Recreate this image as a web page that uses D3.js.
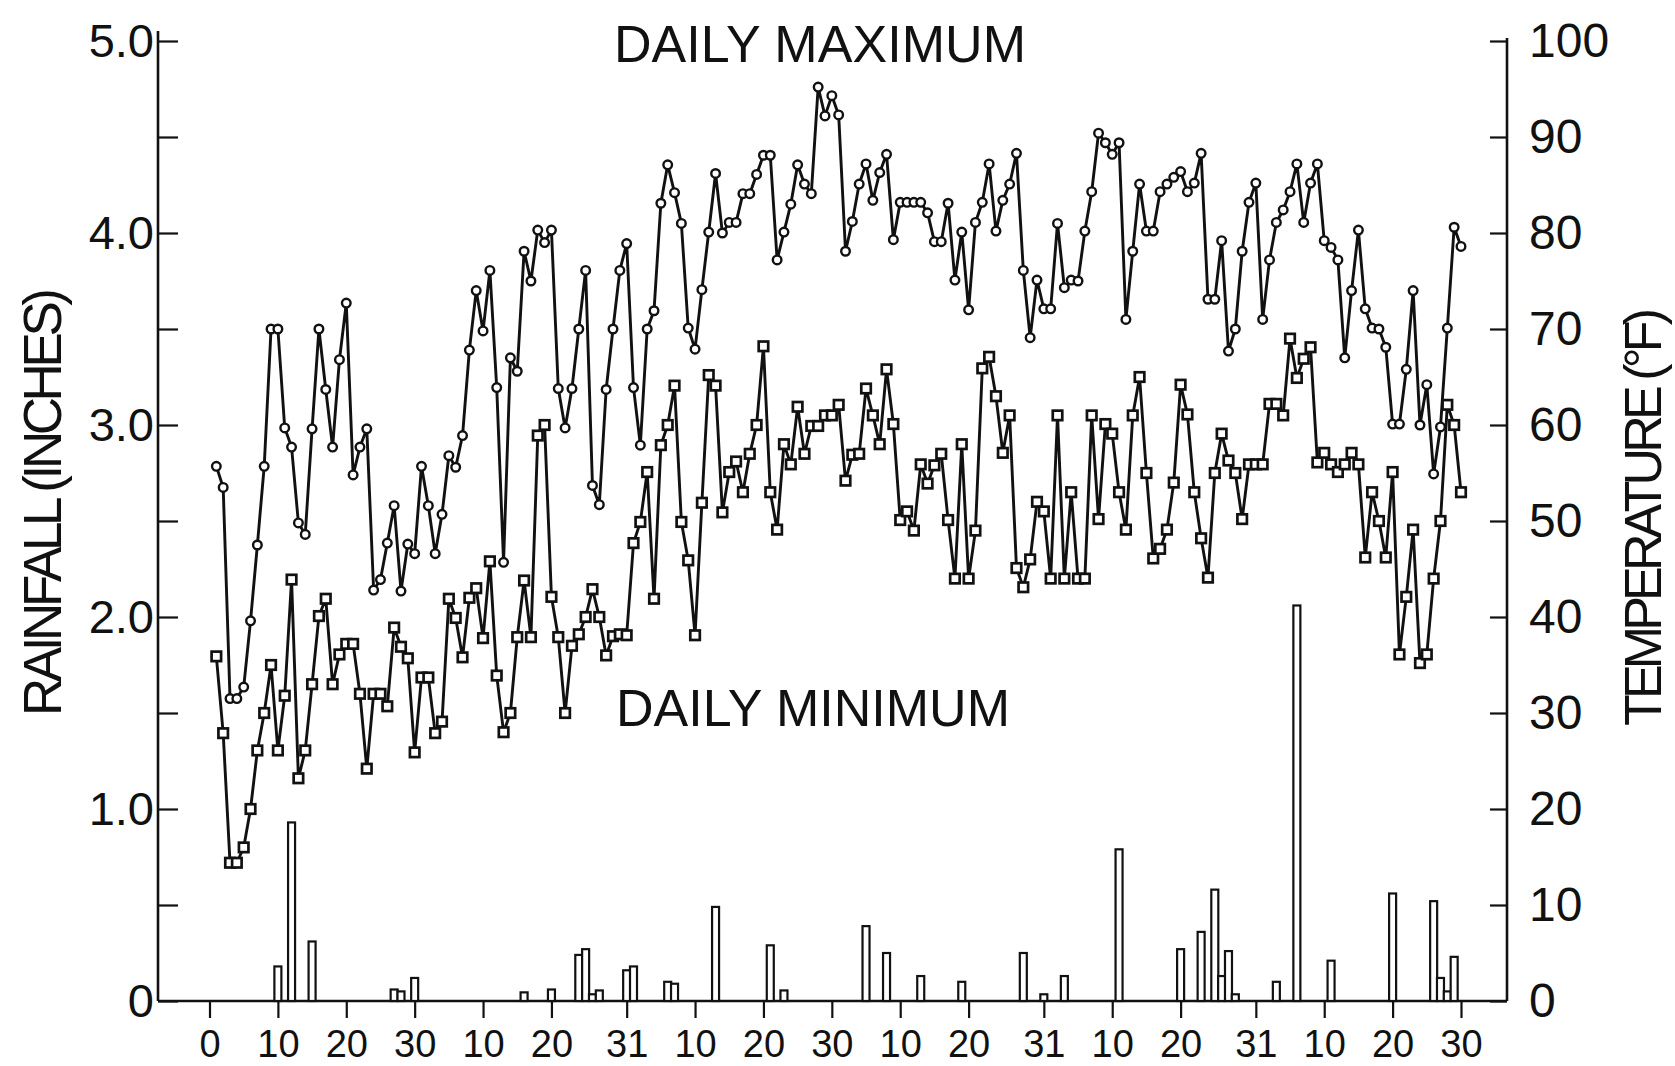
<!DOCTYPE html>
<html>
<head>
<meta charset="utf-8">
<script src="https://cdn.jsdelivr.net/npm/d3@7"></script>
<style>
  body { margin: 0; background: #fff; }
  text { font-family: "Liberation Sans", Arial, sans-serif; fill: #111; }
</style>
</head>
<body>
<svg id="chart" width="1675" height="1066"></svg>
<script>
// daily maximum temperature (deg F), day 1 .. 183
const dailyMax = [
  55.7, 53.5, 31.5, 31.5, 32.7, 39.6, 47.5, 55.7, 70, 70,
  59.7, 57.7, 49.8, 48.6, 59.6, 70, 63.7, 57.7, 66.8, 72.7,
  54.8, 57.7, 59.6, 42.8, 43.9, 47.7,
  51.6, 42.7, 47.6, 46.6, 55.7, 51.6, 46.6, 50.7, 56.8, 55.6,
  58.9, 67.8, 74, 69.8, 76.1, 63.9, 45.7, 67, 65.6, 78.1,
  75, 80.3, 79, 80.3, 63.8, 59.7, 63.8, 70, 76.1, 53.7,
  51.7, 63.7, 70, 76.1,
  78.9, 63.9, 57.9, 70, 71.9, 83.1, 87.1, 84.2, 81, 70.1,
  67.9, 74.1, 80.1, 86.2, 80, 81.1, 81.1, 84.1, 84.1, 86.1,
  88.1, 88.1, 77.2, 80.1, 83, 87.1, 85.1, 84.1, 95.2, 92.2,
  94.3, 92.3, 78.1,
  81.2, 85.1, 87.2, 83.4, 86.3, 88.2, 79.3, 83.2, 83.2, 83.2,
  83.2, 82.1, 79.1, 79.1, 83.1, 75.1, 80.1, 72, 81.1, 83.2,
  87.2, 80.2, 83.4, 85.1, 88.3, 76.1, 69.1, 75.1, 72.1, 72.1,
  81, 74.3,
  75.1, 75, 80.2, 84.3, 90.4, 89.4, 88.2, 89.4, 71, 78.1,
  85.1, 80.2, 80.2, 84.3, 85.1, 85.8, 86.4, 84.3, 85.2, 88.3,
  73.1, 73.1, 79.2, 67.7, 70, 78.1, 83.2, 85.2, 71, 77.2,
  81.1, 82.4, 84.3,
  87.2, 81.1, 85.2, 87.2, 79.2, 78.5, 77.2, 67, 74, 80.3,
  72.1, 70.1, 70, 68.1, 60.1, 60.1, 65.8, 74, 60, 64.2,
  54.9, 59.8, 70.1, 80.6, 78.6
];

// daily minimum temperature (deg F), day 1 .. 183
const dailyMin = [
  35.9, 27.9, 14.4, 14.4, 16, 20, 26.1, 30, 35, 26.1,
  31.8, 43.9, 23.2, 26.1, 33, 40.1, 41.9, 33, 36.1, 37.2,
  37.2, 32, 24.2, 32, 32,
  30.7, 38.9, 36.9, 35.7, 25.9, 33.7, 33.7, 27.9, 29.1, 41.9,
  39.9, 35.8, 42, 43, 37.8, 45.8, 33.9, 28, 30, 37.9,
  43.8, 37.9, 58.9, 60, 42.1, 37.9, 30, 37, 38.2, 40,
  42.9, 40, 36, 38, 38.2,
  38.1,
  47.7, 49.9, 55.1, 41.9, 57.9, 60, 64.1, 49.9, 45.9, 38.1,
  51.9, 65.2, 64.1, 50.9, 55.1, 56.2, 53, 57, 60, 68.2,
  53, 49.1, 58, 55.9, 61.9, 57, 59.9, 59.9, 61, 61,
  62.1, 54.2,
  56.9, 57.0, 63.8, 61, 58.0, 65.8, 60.1, 50.1, 51.0, 49.0,
  55.9, 53.9, 55.8, 57.0, 50.1, 44.0, 58.0, 44.0, 49.0, 65.9,
  67.1, 63.0, 57.1, 61.0, 45.1, 43.1, 46.0, 52.0, 51.0, 44.0,
  61.0, 44.0, 53.0, 44.0, 44.0, 61.0, 50.2, 60.1, 59.1, 53.0,
  49.1, 61.0, 65.0, 55.0, 46.1, 47.1, 49.1, 54.0, 64.2, 61.1,
  53.0, 48.2, 44.1, 55.0, 59.1, 56.3, 55.0, 50.2, 55.9, 55.9,
  55.9, 62.2, 62.2, 61.0, 69.0, 64.9, 66.9, 68.1, 56.1, 57.1,
  55.9, 55.1, 55.9, 57.1, 55.9, 46.2, 53.0, 50.0, 46.2, 55.1,
  36.1, 42.1, 49.1, 35.2, 36.1, 44.0, 50.0, 62.1, 60.0, 53.0
];

// rainfall (inches) on the days it rained
const rainDays = [10, 12, 15, 27, 28, 30, 46, 50, 54, 55, 56, 57, 61, 62, 67, 68, 74, 82, 84,
  96, 99, 104, 110, 119, 122, 125, 133, 142, 145, 147, 148, 149, 150, 156, 159, 164, 173, 179, 180, 181, 182];
const rainInches = [0.18, 0.93, 0.31, 0.06, 0.05, 0.12, 0.045, 0.06, 0.24, 0.27, 0.035, 0.055, 0.16, 0.18, 0.10, 0.09, 0.49, 0.29, 0.055,
  0.39, 0.25, 0.13, 0.10, 0.25, 0.035, 0.13, 0.79, 0.27, 0.36, 0.58, 0.13, 0.26, 0.035, 0.10, 2.06, 0.21, 0.56, 0.52, 0.12, 0.05, 0.23];

// x axis: day of season with day-of-month labels
const tickDays = [0, 10, 20, 30, 40, 50, 61, 71, 81, 91, 101, 111, 122, 132, 142, 153, 163, 173, 183];
const tickLabels = ["0", "10", "20", "30", "10", "20", "31", "10", "20", "30", "10", "20", "31", "10", "20", "31", "10", "20", "30"];
const rainTicks = [0, 0.5, 1, 1.5, 2, 2.5, 3, 3.5, 4, 4.5, 5];
const tempTicks = [0, 10, 20, 30, 40, 50, 60, 70, 80, 90, 100];

const svg = d3.select("#chart");

const plotLeft = 158, plotRight = 1507, plotBottom = 1001, plotTop = 41;

const x = d3.scaleLinear().domain([0, 183]).range([209.5, 1461]);
const yRain = d3.scaleLinear().domain([0, 5]).range([plotBottom, plotTop]);
const yTemp = d3.scaleLinear().domain([0, 100]).range([plotBottom, plotTop]);

// frame
svg.append("line").attr("x1", plotLeft).attr("x2", plotLeft).attr("y1", 31).attr("y2", plotBottom)
  .attr("stroke", "#111").attr("stroke-width", 2.6);
svg.append("line").attr("x1", plotRight).attr("x2", plotRight).attr("y1", 38).attr("y2", plotBottom)
  .attr("stroke", "#111").attr("stroke-width", 2.6);
svg.append("line").attr("x1", plotLeft).attr("x2", plotRight).attr("y1", plotBottom).attr("y2", plotBottom)
  .attr("stroke", "#111").attr("stroke-width", 2.6);

// left axis (rainfall)
const gLeft = svg.append("g").attr("transform", `translate(${plotLeft},0)`)
  .call(d3.axisLeft(yRain).tickValues(rainTicks).tickSizeInner(-20).tickSizeOuter(0).tickPadding(4)
    .tickFormat(d => d === 0 ? "0" : (d % 1 === 0 ? d.toFixed(1) : "")));
gLeft.select(".domain").remove();
gLeft.selectAll("line").attr("stroke", "#111").attr("stroke-width", 2.2);
gLeft.selectAll("text").style("font-size", "47px").attr("fill", "#111");

// right axis (temperature)
const gRight = svg.append("g").attr("transform", `translate(${plotRight},0)`)
  .call(d3.axisRight(yTemp).tickValues(tempTicks).tickSizeInner(-17).tickSizeOuter(0).tickPadding(22));
gRight.select(".domain").remove();
gRight.selectAll("line").attr("stroke", "#111").attr("stroke-width", 2.2);
gRight.selectAll("text").style("font-size", "48px").attr("fill", "#111");

// bottom axis
const gBottom = svg.append("g").attr("transform", `translate(0,${plotBottom})`)
  .call(d3.axisBottom(x).tickValues(tickDays).tickSizeInner(17).tickSizeOuter(0).tickPadding(12)
    .tickFormat((d, i) => tickLabels[i]));
gBottom.select(".domain").remove();
gBottom.selectAll("line").attr("stroke", "#111").attr("stroke-width", 2.2);
gBottom.selectAll("text").style("font-size", "38px").attr("fill", "#111");

// rainfall bars
const barW = 7;
svg.append("g")
  .selectAll("rect")
  .data(rainDays.map((d, i) => ({ day: d, rain: rainInches[i] })))
  .join("rect")
  .attr("x", d => x(d.day) - barW / 2)
  .attr("y", d => yRain(d.rain))
  .attr("width", barW)
  .attr("height", d => plotBottom - yRain(d.rain))
  .attr("fill", "#fff")
  .attr("stroke", "#111")
  .attr("stroke-width", 2.2);

// temperature lines
const maxData = dailyMax.map((t, i) => ({ day: i + 1, t }));
const minData = dailyMin.map((t, i) => ({ day: i + 1, t }));
const line = d3.line().x(d => x(d.day)).y(d => yTemp(d.t));

[maxData, minData].forEach(series => {
  svg.append("path")
    .datum(series)
    .attr("d", line)
    .attr("fill", "none")
    .attr("stroke", "#111")
    .attr("stroke-width", 2.9)
    .attr("stroke-linejoin", "round");
});

// markers: circles for maximum, squares for minimum
svg.append("g")
  .selectAll("circle")
  .data(maxData)
  .join("circle")
  .attr("cx", d => x(d.day))
  .attr("cy", d => yTemp(d.t))
  .attr("r", 4.3)
  .attr("fill", "#fff")
  .attr("stroke", "#111")
  .attr("stroke-width", 2.4);

const sq = 9.5;
svg.append("g")
  .selectAll("rect")
  .data(minData)
  .join("rect")
  .attr("x", d => x(d.day) - sq / 2)
  .attr("y", d => yTemp(d.t) - sq / 2)
  .attr("width", sq)
  .attr("height", sq)
  .attr("fill", "#fff")
  .attr("stroke", "#111")
  .attr("stroke-width", 2.7);

// titles
svg.append("text").attr("x", 820).attr("y", 62).attr("text-anchor", "middle")
  .attr("textLength", 412).attr("lengthAdjust", "spacing")
  .style("font-size", "52px").text("DAILY MAXIMUM");
svg.append("text").attr("x", 813).attr("y", 726).attr("text-anchor", "middle")
  .attr("textLength", 394).attr("lengthAdjust", "spacing")
  .style("font-size", "52px").text("DAILY MINIMUM");

// axis titles
svg.append("text").attr("transform", "translate(61,502) rotate(-90)").attr("text-anchor", "middle")
  .attr("textLength", 428).attr("lengthAdjust", "spacing")
  .style("font-size", "53px").text("RAINFALL (INCHES)");
svg.append("text").attr("transform", "translate(1661,517) rotate(-90)").attr("text-anchor", "middle")
  .attr("textLength", 418).attr("lengthAdjust", "spacing")
  .style("font-size", "52px").text("TEMPERATURE (°F)");
</script>
</body>
</html>
